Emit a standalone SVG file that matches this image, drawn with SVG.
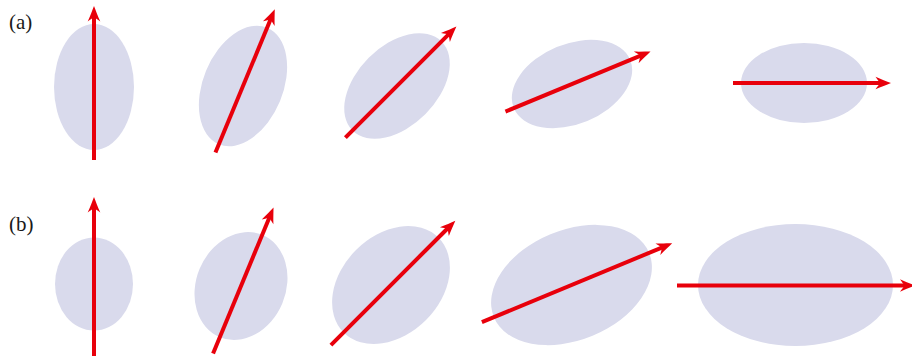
<svg xmlns="http://www.w3.org/2000/svg" width="912" height="356" viewBox="0 0 912 356">
<style>
.ell{fill:#d9daec;stroke:none}
.shaft{stroke:#e8000b;stroke-width:4;fill:none}
.head{fill:#e8000b;stroke:none}
</style>
<defs>
<path id="ah" d="M0 0 C-4.5 -1.8 -10 -3.8 -15.5 -6.3 C-13.5 -3.4 -12 -1.6 -11 0 C-12 1.6 -13.5 3.4 -15.5 6.3 C-10 3.8 -4.5 1.8 0 0 Z"/>
</defs>
<rect width="912" height="356" fill="#fff"/>
<text x="9" y="29" font-family="'Liberation Serif', 'DejaVu Serif', serif" font-size="21" fill="#1a1a1a">(a)</text>
<text x="9" y="231" font-family="'Liberation Serif', 'DejaVu Serif', serif" font-size="21" fill="#1a1a1a">(b)</text>

<g id="a1" transform="translate(94,87) rotate(-90)"><ellipse class="ell" rx="63" ry="40"/></g>
<g id="a2" transform="translate(243,86) rotate(-67.5)"><ellipse class="ell" rx="63" ry="40"/></g>
<g id="a3" transform="translate(397,86) rotate(-45)"><ellipse class="ell" rx="63" ry="40"/></g>
<g id="a4" transform="translate(572,84) rotate(-22.5)"><ellipse class="ell" rx="63" ry="40"/></g>
<g id="a5" transform="translate(804,83)"><ellipse class="ell" rx="63" ry="40"/></g>

<g id="b1" transform="translate(94,284) rotate(-90)"><ellipse class="ell" rx="46.5" ry="39"/></g>
<g id="b2" transform="translate(241,286) rotate(-67.5)"><ellipse class="ell" rx="55.4" ry="44.8"/></g>
<g id="b3" transform="translate(391,285) rotate(-45)"><ellipse class="ell" rx="67" ry="49.5"/></g>
<g id="b4" transform="translate(571.5,285) rotate(-22.5)"><ellipse class="ell" rx="84" ry="55"/></g>
<g id="b5" transform="translate(795.5,285)"><ellipse class="ell" rx="97.5" ry="61"/></g>

<g id="arrows">
<g transform="translate(94,87) rotate(-90)"><line class="shaft" x1="-73" y1="0" x2="71" y2="0"/><use href="#ah" class="head" x="81"/></g>
<g transform="translate(243,86) rotate(-67.5)"><line class="shaft" x1="-72" y1="0" x2="73" y2="0"/><use href="#ah" class="head" x="83"/></g>
<g transform="translate(397,86) rotate(-45)"><line class="shaft" x1="-73" y1="0" x2="74" y2="0"/><use href="#ah" class="head" x="84"/></g>
<g transform="translate(572,84) rotate(-22.5)"><line class="shaft" x1="-72" y1="0" x2="75" y2="0"/><use href="#ah" class="head" x="85"/></g>
<g transform="translate(804,83)"><line class="shaft" x1="-71" y1="0" x2="77" y2="0"/><use href="#ah" class="head" x="87"/></g>

<g transform="translate(94,284) rotate(-90)"><line class="shaft" x1="-74" y1="0" x2="77" y2="0"/><use href="#ah" class="head" x="87"/></g>
<g transform="translate(241,286) rotate(-67.5)"><line class="shaft" x1="-73" y1="0" x2="75" y2="0"/><use href="#ah" class="head" x="85"/></g>
<g transform="translate(391,285) rotate(-45)"><line class="shaft" x1="-85" y1="0" x2="81" y2="0"/><use href="#ah" class="head" x="91"/></g>
<g transform="translate(571.5,285) rotate(-22.5)"><line class="shaft" x1="-97" y1="0" x2="99" y2="0"/><use href="#ah" class="head" x="109"/></g>
<g transform="translate(795.5,285.5)"><line class="shaft" x1="-118.5" y1="0" x2="110" y2="0"/><use href="#ah" class="head" x="120"/></g>
</g>
</svg>
